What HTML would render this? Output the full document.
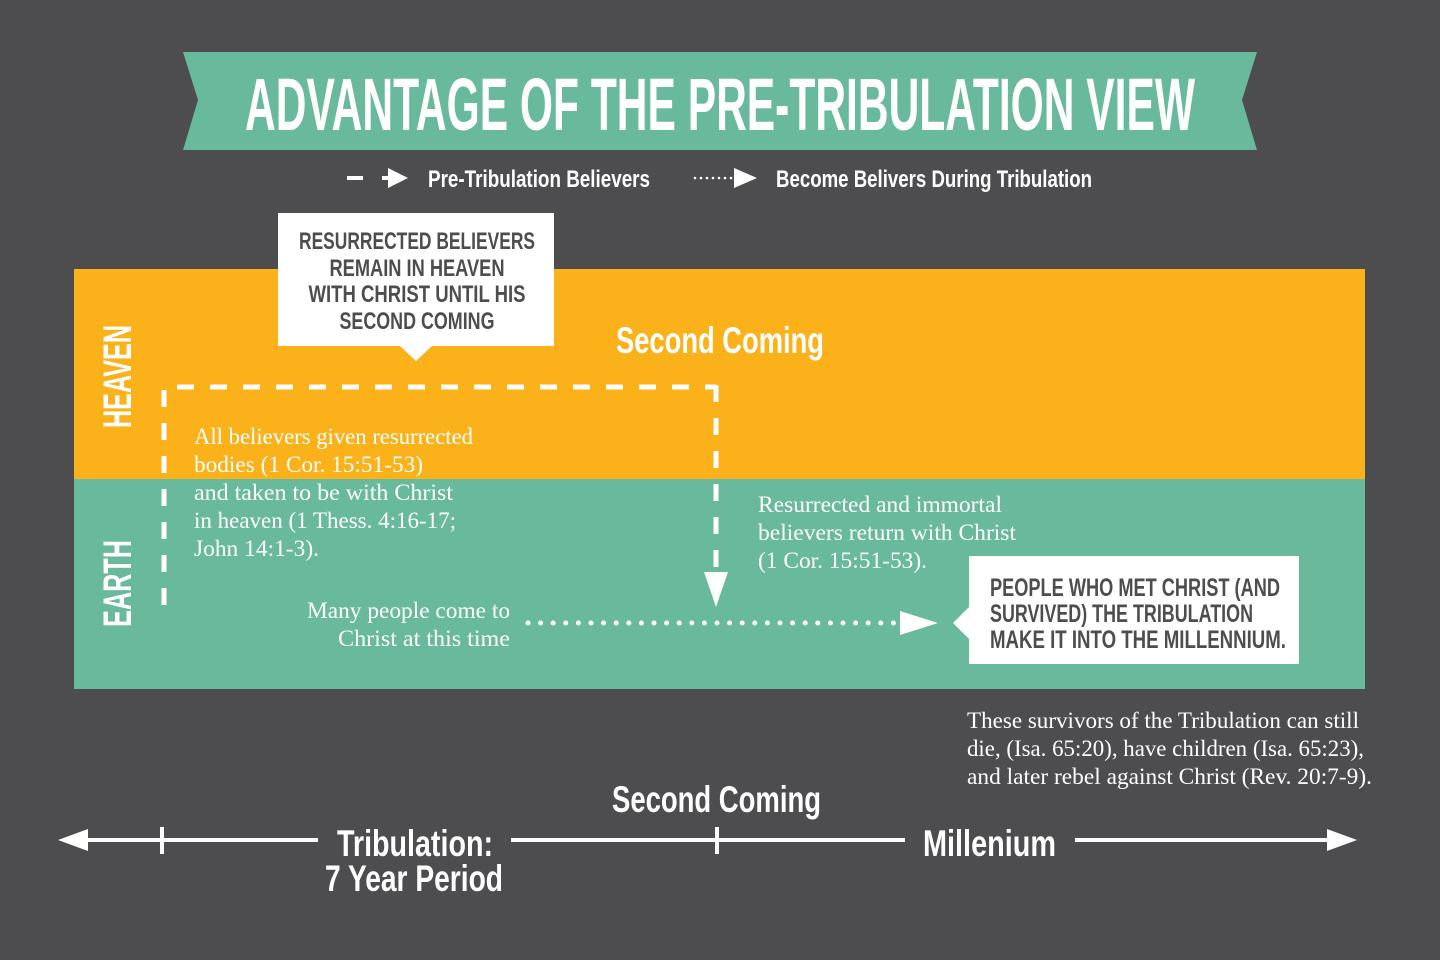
<!DOCTYPE html>
<html><head><meta charset="utf-8"><style>
html,body{margin:0;padding:0;background:#4d4d4f;}
svg{display:block}
.c{font-family:"Liberation Sans Narrow","Liberation Sans",sans-serif;font-weight:bold}
.s{font-family:"Liberation Serif",serif;fill:#fff;font-size:23px}
</style></head><body>
<svg width="1440" height="960" viewBox="0 0 1440 960" xmlns="http://www.w3.org/2000/svg">
<rect width="1440" height="960" fill="#4d4d4f"/>
<polygon points="183,52 1257,52 1242,100 1257,150 183,150 198,100" fill="#69b99c"/>
<text class="c" x="245" y="130" font-size="74" fill="#fff" textLength="950" lengthAdjust="spacingAndGlyphs">ADVANTAGE OF THE PRE-TRIBULATION VIEW</text>
<rect x="347" y="176" width="16" height="4" fill="#fff"/>
<rect x="382" y="176" width="8" height="4" fill="#fff"/>
<polygon points="388,168 408,178 388,188" fill="#fff"/>
<text class="c" x="428" y="187" font-size="24" fill="#fff" textLength="222" lengthAdjust="spacingAndGlyphs">Pre-Tribulation Believers</text>
<g fill="#fff"><circle cx="695" cy="178" r="1.3"/><circle cx="701" cy="178" r="1.3"/><circle cx="707" cy="178" r="1.3"/><circle cx="713" cy="178" r="1.3"/><circle cx="719" cy="178" r="1.3"/><circle cx="725" cy="178" r="1.3"/><circle cx="731" cy="178" r="1.3"/></g>
<polygon points="734,168 757,178 734,188" fill="#fff"/>
<text class="c" x="776" y="187" font-size="24" fill="#fff" textLength="316" lengthAdjust="spacingAndGlyphs">Become Belivers During Tribulation</text>
<rect x="74" y="269" width="1291" height="210" fill="#fbb21a"/>
<rect x="74" y="479" width="1291" height="210" fill="#69b99c"/>
<text class="c" transform="translate(131,428) rotate(-90)" font-size="40" fill="#fff" textLength="103" lengthAdjust="spacingAndGlyphs">HEAVEN</text>
<text class="c" transform="translate(131,627) rotate(-90)" font-size="40" fill="#fff" textLength="87" lengthAdjust="spacingAndGlyphs">EARTH</text>
<rect x="278" y="213" width="276" height="133" fill="#fff"/>
<polygon points="400,346 432,346 416,361" fill="#fff"/>
<g class="c" font-size="24" fill="#4d4d4f" text-anchor="middle">
<text x="417" y="249" textLength="236" lengthAdjust="spacingAndGlyphs">RESURRECTED BELIEVERS</text>
<text x="417" y="276" textLength="175" lengthAdjust="spacingAndGlyphs">REMAIN IN HEAVEN</text>
<text x="417" y="302" textLength="217" lengthAdjust="spacingAndGlyphs">WITH CHRIST UNTIL HIS</text>
<text x="417" y="329" textLength="155" lengthAdjust="spacingAndGlyphs">SECOND COMING</text>
</g>
<text class="c" x="616" y="353" font-size="37" fill="#fff" textLength="208" lengthAdjust="spacingAndGlyphs">Second Coming</text>
<g stroke="#fff" stroke-width="5" fill="none">
<line x1="164" y1="605" x2="164" y2="389" stroke-dasharray="17 16"/>
<line x1="177" y1="387" x2="716" y2="387" stroke-dasharray="17 16"/>
<line x1="716" y1="385" x2="716" y2="575" stroke-dasharray="17 16"/>
</g>
<polygon points="704,572 728,572 716,607" fill="#fff"/>
<g class="s" lengthAdjust="spacingAndGlyphs">
<text x="194" y="444" textLength="279" lengthAdjust="spacingAndGlyphs">All believers given resurrected</text>
<text x="194" y="472" textLength="229" lengthAdjust="spacingAndGlyphs">bodies (1 Cor. 15:51-53)</text>
<text x="194" y="500" textLength="259" lengthAdjust="spacingAndGlyphs">and taken to be with Christ</text>
<text x="194" y="528" textLength="262" lengthAdjust="spacingAndGlyphs">in heaven (1 Thess. 4:16-17;</text>
<text x="194" y="556" textLength="125" lengthAdjust="spacingAndGlyphs">John 14:1-3).</text>
<text x="758" y="512" textLength="244" lengthAdjust="spacingAndGlyphs">Resurrected and immortal</text>
<text x="758" y="540" textLength="258" lengthAdjust="spacingAndGlyphs">believers return with Christ</text>
<text x="758" y="568" textLength="169" lengthAdjust="spacingAndGlyphs">(1 Cor. 15:51-53).</text>
<text x="307" y="618" textLength="203" lengthAdjust="spacingAndGlyphs">Many people come to</text>
<text x="338" y="646" textLength="172" lengthAdjust="spacingAndGlyphs">Christ at this time</text>
<text x="967" y="728" textLength="392" lengthAdjust="spacingAndGlyphs">These survivors of the Tribulation can still</text>
<text x="967" y="756" textLength="397" lengthAdjust="spacingAndGlyphs">die, (Isa. 65:20), have children (Isa. 65:23),</text>
<text x="967" y="784" textLength="405" lengthAdjust="spacingAndGlyphs">and later rebel against Christ (Rev. 20:7-9).</text>
</g>
<line x1="528" y1="623" x2="895" y2="623" stroke="#fff" stroke-width="5" stroke-linecap="round" stroke-dasharray="0 12.6"/>
<polygon points="900,611 938,623 900,635" fill="#fff"/>
<rect x="969" y="556" width="330" height="108" fill="#fff"/>
<polygon points="969,607 953,623 969,639" fill="#fff"/>
<g class="c" font-size="25" fill="#4d4d4f">
<text x="990" y="596" textLength="290" lengthAdjust="spacingAndGlyphs">PEOPLE WHO MET CHRIST (AND</text>
<text x="990" y="622" textLength="263" lengthAdjust="spacingAndGlyphs">SURVIVED) THE TRIBULATION</text>
<text x="990" y="648" textLength="296" lengthAdjust="spacingAndGlyphs">MAKE IT INTO THE MILLENNIUM.</text>
</g>
<g fill="#fff">
<polygon points="58,840 88,829 88,851"/>
<rect x="86" y="838" width="232" height="4"/>
<rect x="160" y="827" width="4" height="27"/>
<rect x="511" y="838" width="394" height="4"/>
<rect x="715" y="827" width="4" height="27"/>
<rect x="1075" y="838" width="256" height="4"/>
<polygon points="1357,840 1327,829 1327,851"/>
</g>
<g class="c" fill="#fff" font-size="37">
<text x="337" y="856" textLength="156" lengthAdjust="spacingAndGlyphs">Tribulation:</text>
<text x="325" y="891" textLength="178" lengthAdjust="spacingAndGlyphs">7 Year Period</text>
<text x="612" y="812" textLength="209" lengthAdjust="spacingAndGlyphs">Second Coming</text>
<text x="923" y="856" textLength="133" lengthAdjust="spacingAndGlyphs">Millenium</text>
</g>
</svg>
</body></html>
